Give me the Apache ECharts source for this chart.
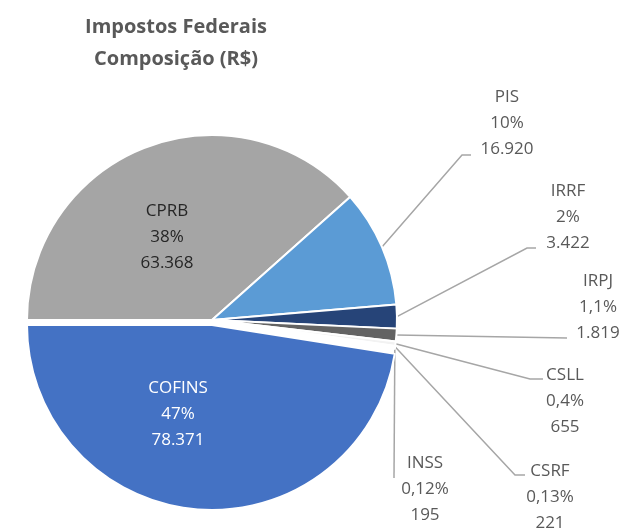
<!DOCTYPE html>
<html>
<head>
<meta charset="utf-8">
<script src="https://cdn.jsdelivr.net/npm/echarts@6/dist/echarts.min.js"></script>
<style>
  html, body { margin: 0; padding: 0; background: #fff; }
  #chart { width: 626px; height: 529px; }
</style>
</head>
<body>
<div id="chart"></div>
<script>
// data, in the slice order of the original (clockwise from 9 o'clock)
var names = ['CPRB', 'PIS', 'IRRF', 'IRPJ', 'CSLL', 'CSRF', 'INSS', 'COFINS'];
var values = [63368, 16920, 3422, 1819, 655, 221, 195, 78371];
var pctLabels = ['38%', '10%', '2%', '1,1%', '0,4%', '0,13%', '0,12%', '47%'];

var colors = ['#a5a5a5', '#5b9bd5', '#264478', '#636363', '#f2f2f2', '#9dc3e6', '#dae3f3', '#4472c4'];
var exploded = 'COFINS';   // slice pulled out a little, as in the original

// where the labels sit (centre of the 3-line block) and how the leader lines bend
var labelSpots = {
  CPRB:   { x: 167, y: 237 },
  COFINS: { x: 178, y: 414 },
  PIS:    { x: 507, y: 123 },
  IRRF:   { x: 568, y: 217 },
  IRPJ:   { x: 598, y: 307 },
  CSLL:   { x: 565, y: 401 },
  CSRF:   { x: 550, y: 497 },
  INSS:   { x: 425, y: 489 }
};
var leaderEnds = {
  PIS:  [[462, 155], [471, 155]],
  IRRF: [[527, 248], [536, 248]],
  IRPJ: [[567, 338], [567, 338]],
  CSLL: [[530, 379], [543, 379]],
  CSRF: [[515, 475], [525, 475]],
  INSS: [[394, 478], [394, 478]]
};

function fmtThousands(v) {
  return String(v).replace(/\B(?=(\d{3})+(?!\d))/g, '.');
}
function labelText(p) {
  return p.name + '\n' + pctLabels[p.dataIndex] + '\n' + fmtThousands(p.value);
}

// main pie: every slice except the exploded one
var mainData = names.map(function (n, i) {
  var item = { name: n, value: values[i], itemStyle: { color: colors[i] } };
  if (n === 'CPRB') {
    item.label = { color: '#262626' };
    item.labelLine = { show: false };
  }
  if (n === exploded) {
    item.itemStyle = { color: 'rgba(0,0,0,0)', borderWidth: 0 };
    item.label = { show: false };
    item.labelLine = { show: false };
  }
  return item;
});
// second pie, same data, only the exploded slice visible
var explodedData = names.map(function (n, i) {
  if (n === exploded) {
    return { name: n, value: values[i], itemStyle: { color: colors[i] },
             label: { show: true, color: '#ffffff' }, labelLine: { show: false } };
  }
  return { name: n, value: values[i], itemStyle: { color: 'rgba(0,0,0,0)', borderWidth: 0 },
           label: { show: false }, labelLine: { show: false } };
});

function placeLabel(params) {
  var n = names[params.dataIndex];
  var s = labelSpots[n];
  var out = { x: s.x, y: s.y, align: 'center', verticalAlign: 'middle' };
  if (leaderEnds[n] && params.labelLinePoints) {
    out.labelLinePoints = [params.labelLinePoints[0]].concat(leaderEnds[n]);
  }
  return out;
}

var baseSeries = {
  type: 'pie',
  radius: 185,
  startAngle: 180,
  clockwise: true,
  avoidLabelOverlap: false,
  silent: true,
  emphasis: { disabled: true },
  itemStyle: { borderColor: '#ffffff', borderWidth: 2 },
  label: {
    show: true,
    position: 'outside',
    fontFamily: 'Open Sans',
    fontSize: 17,
    lineHeight: 26,
    color: '#595959',
    align: 'center',
    formatter: labelText
  },
  labelLine: {
    show: true,
    length: 10,
    length2: 10,
    lineStyle: { color: '#a6a6a6', width: 1.5 }
  },
  labelLayout: placeLabel
};

var chart = echarts.init(document.getElementById('chart'));
var option = {
  animation: false,
  title: {
    text: 'Impostos Federais\nComposição (R$)',
    left: 171,
    top: 6,
    textAlign: 'center',
    textStyle: {
      fontFamily: 'Open Sans',
      fontWeight: 'bold',
      fontSize: 20,
      lineHeight: 32,
      color: '#595959'
    }
  },
  series: [
    Object.assign({}, baseSeries, { center: [212, 320], data: mainData }),
    Object.assign({}, baseSeries, { center: [212, 325], data: explodedData })
  ]
};
chart.setOption(option);
</script>
</body>
</html>
